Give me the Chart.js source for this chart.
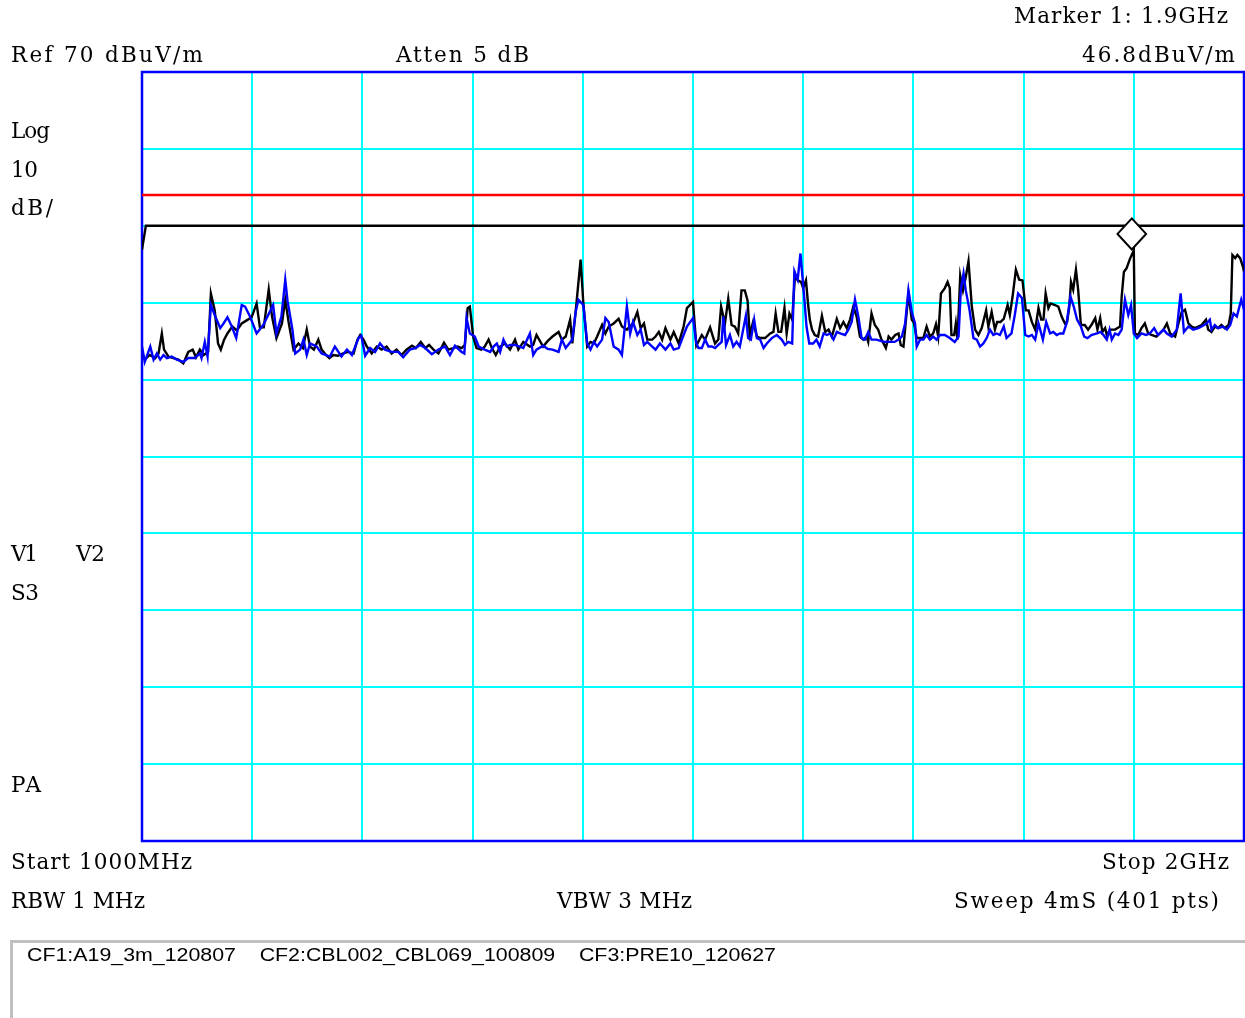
<!DOCTYPE html>
<html>
<head>
<meta charset="utf-8">
<title>Spectrum sweep 1000 MHz - 2 GHz</title>
<script src="https://cdn.jsdelivr.net/npm/chart.js@4.4.1/dist/chart.umd.min.js"></script>
<style>
  html, body { margin: 0; padding: 0; background: #fff; }
  #wrap { position: relative; width: 1245px; height: 1018px; overflow: hidden; }
  #chart { position: absolute; left: 0; top: 0; }
  .lbl { position: absolute; white-space: pre; font-family: 'DejaVu Serif', serif; font-size: 21.5px; line-height: 1; color: #000; }
  .lbl.sans { font-family: 'Liberation Sans', Arial, sans-serif; font-size: 18px; transform-origin: 0 0; }
  .note { position: absolute; left: 10px; top: 940px; width: 1250px; height: 100px; border-top: 3px solid #c0c0c0; border-left: 3px solid #c0c0c0; }
</style>
</head>
<body>
<div id="wrap">
  <canvas id="chart" width="1245" height="1018"></canvas>
  <div class="note"></div>
</div>
<script>
// sweep settings
const startFreq = 1000;   // MHz
const stopFreq = 2000;
const refLevel = 70;      // dBuV/m, top of screen
const dbPerDiv = 10;

// marker 1
const markerFreq = 1900;
const markerLevel = 46.8;

// limit line (red) and display line (black)
const limitFreq = [1000, 2000];
const limitLevel = [54, 54];
const displayFreq = [1000, 1003.5, 2000];
const displayLevel = [46.9, 50, 50];

// trace 1 (black)
const blackFreq = [
  1000,1002.5,1007,1012,1015,1018,1020,1024,1028.5,1033,1037.5,1042,1046,1049,1052.5,1056,1060,1062.5,1066,1069,
  1071.5,1074.5,1077.5,1082,1086,1090.5,1095,1099.5,1104,1107,1110.5,1115,1118,1122,1127,1130,1133,1137.5,1142,1146,
  1149.5,1152.5,1156,1160,1163,1167,
  1170,1173.5,1178,1182.5,1187,1192,1195.5,1198,1201,1204,1208.5,1213,1217.5,1222,1226.5,1231,1235.5,1240,1245,1248.5,
  1253,1257,1260.5,1264.5,1269,1274,1278,1282.5,1286.5,1290,1293,1295.5,1297.5,1300.5,1303.5,1308,1311,1314.5,1317.5,1321,
  1325,1329.5,1334,
  1338.5,1341.5,1346,1352,1355,1358,1364,1368,1372.5,1378,1381,1384.5,1388.5,1390.5,1393.5,1398,1400.5,1404,1407,1410,
  1413,1417.5,1420.5,1423.5,1428,1432.5,1435.5,1440,1445.5,1449.5,1452.5,1455.5,1458.5,1463,1466,1469,1472,1475,1479.5,1482.5,
  1487,1491.5,1494.5,1500,1503,
  1508,1511,1515.5,1520,1523,1525.5,1529,1532,1535,1538,1541,1544,1547,1549.5,1551.5,1554.5,1558,1561,1565.5,1570,
  1573,1575,1577.5,1580,1583,1585,1587.5,1590,1592.5,1595,1598,1600,1602.5,1604.5,1606,1608,1610.5,1613.5,1617,1620,
  1623,1626,1630.5,1633.5,1636.5,1639.5,1642.5,1645.5,1648.5,1651.5,1654.5,1657.5,1659,1662,1665,1668,1671,
  1672.5,1675,1677.5,1680,1683.5,1686.5,1688.5,1691,1695.5,1698.5,1700.5,1703,1706,1709,1712,1715,1718,1720.5,1722.5,1725,
  1728.5,1731,1733,1734.5,1737,1738.5,1740,1742.5,1745,1747.5,1750,1753,1756,1759,1762,1766,1768,1771,1774,1776,
  1779,1782,1785.5,1787.5,1790,1793,1796,1799,1802,1804.5,1807.5,1810.5,1813.5,1816,1818,1820,1822.5,1824.5,1828.5,1831.5,
  1834.5,1837.5,1839.5,
  1841.5,1843,1845,1847.5,1849.5,1852,1855.5,1858.5,1861.5,1865,1867,1869.5,1871.5,1874,1875.5,1878.5,1883,1887.5,1889,1891,
  1893.5,1896.5,1900,1901,1904,1907,1910,1913,1916,1920.5,1923.5,1927,1930,1933,1937.5,1940.5,1943.5,1946.5,1949.5,1952.5,
  1955.5,1958.5,1961.5,1965.5,1967.5,1970.5,1973.5,1976.5,1979.5,1982.5,1986,1988,1989.5,1992,1994,1996.5,1999,2000
];
const blackLevel = [
  33.6,32.6,33.2,32.8,33.4,36.0,33.9,33.0,32.8,32.6,32.1,33.6,33.9,32.9,33.9,33.2,33.6,41.2,39.0,34.7,
  33.9,35.2,36.0,36.9,36.4,37.3,37.7,38.1,39.9,36.8,36.8,41.7,38.2,35.4,37.3,40.4,37.5,33.9,34.7,34.1,
  36.5,34.3,33.9,35.2,33.9,33.2,
  32.8,33.2,33.1,33.4,33.6,33.4,35.2,35.8,35.2,34.3,33.4,34.3,33.9,34.3,33.4,33.9,33.2,33.9,34.4,34.1,
  34.9,34.1,34.5,33.9,33.4,34.8,33.9,34.1,34.3,34.1,34.5,39.3,39.5,35.6,34.1,33.9,34.3,35.2,34.1,33.2,
  34.3,34.7,33.9,
  35.2,33.9,34.9,34.3,34.5,35.8,34.3,35.0,35.6,36.2,35.2,35.6,37.8,34.7,38.8,45.6,39.9,34.3,34.9,34.7,
  35.6,37.1,36.0,36.9,37.3,37.9,36.9,36.5,37.3,38.8,36.7,37.3,35.2,35.2,35.6,36.2,35.2,36.7,35.2,36.2,
  34.7,36.9,39.3,40.1,34.4,
  35.8,35.2,36.8,34.7,35.2,39.5,37.3,40.5,37.1,36.9,36.0,41.6,41.6,40.3,35.8,37.5,35.6,35.4,35.4,36.0,
  36.2,38.6,36.2,36.2,39.3,36.0,38.6,37.8,43.5,42.9,42.7,41.9,42.9,39.7,37.8,36.5,35.8,35.6,38.3,36.2,
  36.5,35.6,37.9,36.7,37.5,36.7,37.8,39.5,38.2,35.6,35.2,35.6,34.9,38.6,37.1,36.5,35.2,
  34.8,34.1,35.6,35.2,35.8,36.0,34.5,34.3,41.2,37.8,37.4,35.4,35.4,35.4,36.9,35.6,36.0,37.2,35.6,41.2,
  41.9,42.7,41.9,35.8,35.8,37.3,35.2,43.5,41.6,43.3,45.4,39.5,36.5,35.8,36.7,39.0,36.9,38.8,36.5,37.5,
  37.5,37.9,39.7,38.4,40.8,44.3,43.0,42.9,39.0,39.0,37.5,36.5,39.3,37.8,37.8,41.2,39.3,39.9,39.7,39.5,
  38.2,37.3,37.5,
  39.5,42.7,41.7,44.3,41.7,37.1,37.1,36.5,37.1,38.0,36.5,38.0,36.2,36.7,35.8,36.5,36.5,36.9,40.8,44.0,
  44.5,45.7,46.8,36.0,35.8,36.7,37.3,36.0,35.8,35.6,36.0,36.5,37.3,36.0,35.6,37.3,38.8,39.1,37.3,36.9,
  36.7,36.9,37.1,37.8,36.5,36.2,36.9,36.7,37.1,36.7,37.1,38.6,46.2,45.8,46.2,45.8,44.7,44.1
];

// trace 2 (blue)
const blueFreq = [
  1000,1002.5,1007.5,1010.5,1013.5,1016.5,1019.5,1022.5,1027,1031.5,1037.5,1042,1048,1052.5,1054,1057,1059.5,1062.5,1066.5,1071,
  1074,1077.5,1081.5,1085.5,1087.5,1090.5,1093.5,1098,1104,1110,1119,1122,1126.5,1130,1132,1134.5,1136.5,1139,1143.5,1146.5,
  1149.5,1152.5,1158.5,1163,
  1170.5,1175,1181,1186,1190.5,1196.5,1199,1202.5,1207,1211.5,1216,1220.5,1226.5,1232.5,1237,1243,1248,1252.5,1257,1263,
  1269,1275,1279.5,1284,1290,1292.5,1294.5,1297.5,1302,1305.5,1311,1316,1319,1322,1325,1328,1331,1334,
  1338.5,1346,1352,1355,1358,1364,1368,1372.5,1378,1381,1384.5,1390.5,1393.5,1396,1400.5,1404,1407,1410,1413,1417.5,
  1420.5,1423.5,1428,1432.5,1435.5,1440,1443,1445.5,1449.5,1452.5,1455.5,1458.5,1463,1466,1470,1475,1479.5,1482.5,1487,1491.5,
  1494.5,1497.5,1500,1503,
  1505,1508,1511,1514,1517,1520,1523,1526,1527.5,1530,1533.5,1536.5,1539.5,1542.5,1545.5,1548,1550,1552.5,1555.5,1558,
  1561,1564,1567,1571.5,1576,1580.5,1583.5,1586.5,1590,1592,1595,1597.5,1601,1603,1605.5,1609,1612,1615,1618.5,1621.5,
  1624.5,1627.5,1630.5,1633.5,1638,1641,1644,1647,1650,1653,1656,1659,1662,1666.5,1671,
  1674,1678.5,1683,1686.5,1689.5,1692.5,1695.5,1698.5,1701.5,1703,1706,1709,1712,1715,1718,1721,1724,1728.5,1733,1737.5,
  1741,1743,1745.5,1747.5,1751,1754.5,1757.5,1760.5,1763.5,1766.5,1769.5,1772.5,1775.5,1778.5,1782,1784.5,1789,1792,1795,1798.5,
  1801.5,1804.5,1807.5,1810.5,1813.5,1817.5,1820.5,1824,1827,1830,1833,
  1836,1839,1842.5,1845.5,1848.5,1852,1855,1858,1861.5,1866.5,1870,1872.5,1875.5,1878,1880,1883,1886,1889,1892,1895,
  1897.5,1900,1903,1907,1911,1914.5,1918.5,1922,1927,1930,1934.5,1939,1942.5,1945.5,1949.5,1954,1958.5,1961.5,1966,1969,
  1970.5,1973.5,1976.5,1981,1984.5,1987.5,1990.5,1993.5,1997.5,2000
];
const blueLevel = [
  34.3,32.3,34.3,32.6,33.4,32.6,33.2,32.8,33.0,32.6,32.3,32.8,32.8,33.4,32.8,34.9,33.0,39.7,38.2,36.7,
  37.3,38.1,36.9,35.4,37.1,39.7,39.5,38.2,36.0,37.1,39.7,36.0,38.2,43.0,40.3,38.2,36.5,33.4,33.9,35.2,
  33.2,34.7,34.3,33.4,
  33.0,34.3,33.0,33.9,33.2,35.4,35.7,33.1,34.1,33.6,34.7,33.9,33.6,33.6,32.9,33.9,34.1,34.5,34.1,33.3,
  33.9,34.3,33.2,34.4,33.6,33.4,38.0,36.0,35.6,34.3,33.9,33.6,34.3,34.7,33.6,35.2,34.3,34.5,
  34.5,34.1,36.0,33.2,33.9,34.4,34.0,33.9,33.6,35.2,34.1,35.2,38.8,40.4,39.7,34.7,33.9,34.9,34.3,35.2,
  38.0,37.5,34.3,33.9,33.2,39.5,36.0,37.5,35.8,36.5,34.5,34.9,34.3,33.9,34.7,33.9,34.7,33.9,34.1,35.8,
  36.9,37.5,38.0,34.7,
  34.1,34.1,35.2,34.3,34.3,34.1,34.5,34.9,38.2,34.5,35.8,34.3,34.9,34.3,36.5,38.3,35.4,35.2,37.8,35.4,
  35.2,34.1,34.7,35.4,35.8,35.2,34.5,34.9,34.7,44.1,43.0,46.4,40.6,36.9,34.7,34.7,35.2,34.3,36.0,35.8,
  36.0,35.2,36.2,36.0,35.8,36.5,37.5,40.4,38.2,35.4,35.2,36.2,35.2,35.2,35.0,
  34.9,34.9,34.9,35.2,35.6,37.3,41.6,38.8,37.3,34.3,35.2,35.2,35.8,35.2,35.6,35.2,35.8,35.8,35.4,34.9,
  35.6,41.6,43.8,41.6,39.0,35.4,35.2,34.3,34.7,35.4,36.5,35.8,36.0,35.8,36.9,35.4,36.0,38.4,41.2,40.6,
  35.8,35.6,35.8,35.2,37.3,35.2,37.5,36.0,36.2,35.8,36.0,
  36.0,37.3,40.8,39.5,37.8,36.9,35.6,35.4,35.8,36.0,36.2,35.8,35.2,36.5,35.2,36.0,35.8,36.5,40.4,38.4,
  39.7,36.0,35.4,36.0,35.8,36.0,36.7,35.8,36.5,36.0,35.6,36.5,41.2,36.2,36.9,36.5,36.7,36.9,37.3,37.8,
  36.5,37.1,36.7,36.9,36.5,37.1,38.6,38.2,40.4,39.1
];

// screen annotations: text, left (or right), baseline, ink width
const labels = [
  { text: 'Marker 1: 1.9GHz', x: 1014, y: 23, w: 214 },
  { text: 'Ref 70 dBuV/m', x: 11, y: 61.5, w: 192 },
  { text: 'Atten 5 dB', x: 396, y: 61.5, w: 133 },
  { text: '46.8dBuV/m', x: 1235, y: 62, w: 153, align: 'right' },
  { text: 'Log', x: 11, y: 138.3, w: 39 },
  { text: '10', x: 11, y: 176.5, w: 27 },
  { text: 'dB/', x: 11, y: 214.5, w: 42 },
  { text: 'V1', x: 11, y: 560.5, w: 27 },
  { text: 'V2', x: 76, y: 560.5, w: 29 },
  { text: 'S3', x: 11, y: 599.5, w: 28 },
  { text: 'PA', x: 11, y: 791.5, w: 30 },
  { text: 'Start 1000MHz', x: 11, y: 869.3, w: 181 },
  { text: 'Stop 2GHz', x: 1229, y: 869.3, w: 127, align: 'right' },
  { text: 'RBW 1 MHz', x: 11, y: 907.7, w: 134 },
  { text: 'VBW 3 MHz', x: 557, y: 907.7, w: 135 },
  { text: 'Sweep 4mS (401 pts)', x: 1219, y: 907.7, w: 265, align: 'right' },
  { text: 'CF1:A19_3m_120807    CF2:CBL002_CBL069_100809    CF3:PRE10_120627', x: 27, y: 961, w: 749, sans: true }
];

const toXY = (fs, vs) => fs.map((f, i) => ({ x: f, y: vs[i] }));

const screenPlugin = {
  id: 'screen',
  beforeDatasetsDraw(chart) {
    const { ctx, chartArea: a } = chart;
    ctx.save();
    ctx.strokeStyle = '#0000ff';
    ctx.lineWidth = 2.5;
    ctx.strokeRect(a.left, a.top, a.right - a.left, a.bottom - a.top);
    ctx.restore();
  },
  afterDatasetsDraw(chart) {
    const { ctx, scales: { x, y } } = chart;
    // diamond sits just above the marked point
    const cx = x.getPixelForValue(markerFreq) - 2;
    const cy = y.getPixelForValue(markerLevel) - 16.5;
    ctx.save();
    ctx.beginPath();
    ctx.moveTo(cx, cy - 15.5);
    ctx.lineTo(cx + 14.3, cy);
    ctx.lineTo(cx, cy + 15.5);
    ctx.lineTo(cx - 14.3, cy);
    ctx.closePath();
    ctx.fillStyle = '#fff';
    ctx.fill();
    ctx.lineWidth = 2;
    ctx.strokeStyle = '#000';
    ctx.stroke();
    ctx.restore();
  }
};

const lineSet = (label, data, color) => ({
  label, data, borderColor: color, borderWidth: 2.4, pointRadius: 0, tension: 0, fill: false
});

new Chart(document.getElementById('chart'), {
  type: 'line',
  data: {
    datasets: [
      lineSet('Trace 2', toXY(blueFreq, blueLevel), '#0000ff'),
      lineSet('Trace 1', toXY(blackFreq, blackLevel), '#000000'),
      lineSet('Display line', toXY(displayFreq, displayLevel), '#000000'),
      lineSet('Limit', toXY(limitFreq, limitLevel), '#ff0000')
    ]
  },
  options: {
    responsive: false,
    animation: false,
    layout: { padding: { left: 142, top: 72, right: 1, bottom: 177 } },
    plugins: { legend: { display: false }, tooltip: { enabled: false } },
    scales: {
      x: {
        type: 'linear', min: startFreq, max: stopFreq,
        ticks: { display: false, stepSize: (stopFreq - startFreq) / 10 },
        grid: { color: '#00ffff', lineWidth: 2, drawTicks: false },
        border: { display: false }
      },
      y: {
        type: 'linear', min: refLevel - 10 * dbPerDiv, max: refLevel,
        ticks: { display: false, stepSize: dbPerDiv },
        grid: { color: '#00ffff', lineWidth: 2, drawTicks: false },
        border: { display: false }
      }
    }
  },
  plugins: [screenPlugin]
});

// place text so its baseline and ink width match the screen
const wrap = document.getElementById('wrap');
labels.forEach(l => {
  const el = document.createElement('div');
  el.className = 'lbl' + (l.sans ? ' sans' : '');
  el.textContent = l.text;
  const probe = document.createElement('span');
  probe.style.cssText = 'display:inline-block;width:0;height:0;';
  el.appendChild(probe);
  el.style.left = '0px';
  el.style.top = '0px';
  wrap.appendChild(el);
  const w0 = el.getBoundingClientRect().width;
  if (l.sans) {
    el.style.transform = 'scaleX(' + (l.w / w0) + ')';
  } else {
    el.style.letterSpacing = ((l.w - w0) / (l.text.length - 1)) + 'px';
  }
  const base = probe.getBoundingClientRect().top - wrap.getBoundingClientRect().top;
  el.style.left = (l.align === 'right' ? l.x - l.w : l.x) + 'px';
  el.style.top = (l.y - base) + 'px';
});
</script>
</body>
</html>
